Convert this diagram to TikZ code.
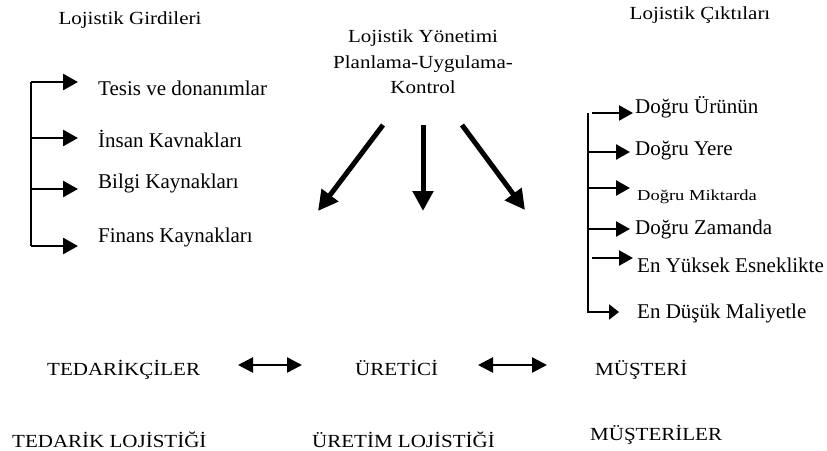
\documentclass[tikz,border=0pt]{standalone}
\usepackage{fontspec}
\setmainfont{Liberation Serif}
\usetikzlibrary{arrows.meta}
\newcommand\squish[1]{\scalebox{1}[0.88]{#1}}
\begin{document}
\begin{tikzpicture}[x=1pt,y=-1pt,
  lbl/.style={anchor=base west,inner sep=0pt,font=\fontsize{21}{24}\selectfont},
  ttl/.style={anchor=base,inner sep=0pt,font=\fontsize{21}{24}\selectfont},
  inarrow/.style={line width=2.7pt,-{Triangle[length=15pt,width=16pt]}},
  outarrow/.style={line width=2.4pt,-{Triangle[length=14pt,width=15pt]}},
  bigarrow/.style={line width=5pt,-{Triangle[length=20pt,width=20pt]}},
  twoway/.style={line width=2.5pt,{Triangle[length=15pt,width=15pt]}-{Triangle[length=15pt,width=15pt]}},
  bar/.style={line width=2.7pt}]
\useasboundingbox (0,0) rectangle (827,450);

% titles
\node[ttl] (tin) at (130,24) {\squish{Lojistik Girdileri}};
\node[ttl] (tout) at (700,19) {\squish{Lojistik Çıktıları}};
\node[ttl] (tm1) at (423,42) {\squish{Lojistik Yönetimi}};
\node[ttl] (tm2) at (423,68) {\squish{Planlama-Uygulama-}};
\node[ttl] (tm3) at (423,93) {\squish{Kontrol}};

% logistics inputs
\coordinate (li0) at (31,82);
\coordinate (li1) at (31,138);
\coordinate (li2) at (31,189);
\coordinate (li3) at (31,246);
\draw[bar] (li0) -- (li3);
\node[lbl] (i1) at (98,95) {Tesis ve donanımlar};
\node[lbl] (i2) at (98,147) {İnsan Kavnakları};
\node[lbl] (i3) at (98,188) {Bilgi Kaynakları};
\node[lbl] (i4) at (98,242) {Finans Kaynakları};
\foreach \c in {li0,li1,li2,li3}
  \draw[inarrow] (\c) -- ++(47,0);

% management arrows
\coordinate (m1s) at (383,125); \coordinate (m1e) at (318,211);
\coordinate (m2s) at (423,125); \coordinate (m2e) at (423,211);
\coordinate (m3s) at (462,125); \coordinate (m3e) at (525,210);
\draw[bigarrow] (m1s) -- (m1e);
\draw[bigarrow] (m2s) -- (m2e);
\draw[bigarrow] (m3s) -- (m3e);

% logistics outputs
\coordinate (lo0) at (588,113);
\coordinate (lo6) at (588,313);
\draw[bar] (lo0) -- (lo6);
\node[lbl] (o1) at (635,113) {Doğru Ürünün};
\node[lbl] (o2) at (635,155) {Doğru Yere};
\node[lbl,font=\fontsize{18.5}{21}\selectfont] (o3) at (637,200) {\scalebox{1}[0.82]{Doğru Miktarda}};
\node[lbl] (o4) at (635,234) {Doğru Zamanda};
\node[lbl] (o5) at (637,272) {En Yüksek Esneklikte};
\node[lbl] (o6) at (637,318) {En Düşük Maliyetle};
\draw[outarrow] (592,113) -- (633,113);
\draw[outarrow] (588,152) -- (630,152);
\draw[outarrow] (588,188) -- (630,188);
\draw[outarrow] (588,229) -- (630,229);
\draw[outarrow] (592,258) -- (633,258);
\draw[line width=2.4pt,-{Triangle[length=10pt,width=15pt]}] (588,312) -- (619,312);

% supply chain row
\node[lbl] (sup) at (47,375) {\squish{TEDARİKÇİLER}};
\node[lbl] (man) at (355,375) {\squish{ÜRETİCİ}};
\node[lbl] (cus) at (595,375) {\squish{MÜŞTERİ}};
\coordinate (a1s) at (238,365); \coordinate (a1e) at (302,365);
\coordinate (a2s) at (478,365); \coordinate (a2e) at (547,365);
\draw[twoway] (a1s) -- (a1e);
\draw[twoway] (a2s) -- (a2e);

% logistics stages
\node[lbl] (sl) at (12,447) {\squish{TEDARİK LOJİSTİĞİ}};
\node[lbl] (ml) at (312,447) {\squish{ÜRETİM LOJİSTİĞİ}};
\node[lbl] (cl) at (590,440) {\squish{MÜŞTERİLER}};
\end{tikzpicture}
\end{document}
